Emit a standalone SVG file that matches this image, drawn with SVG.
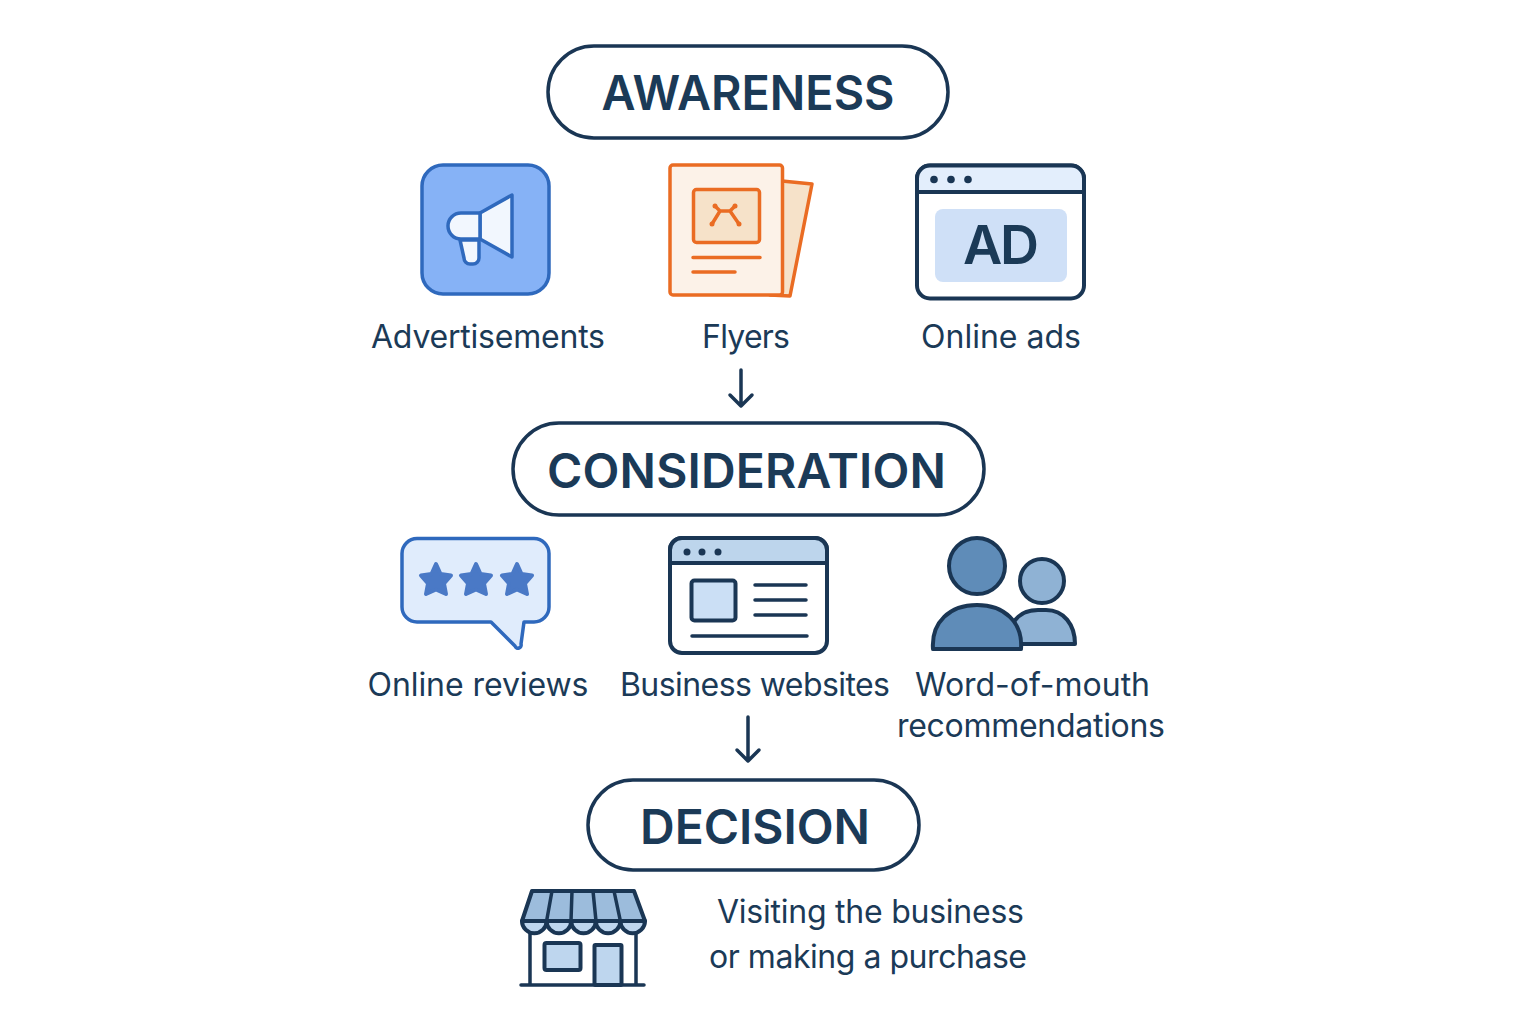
<svg xmlns="http://www.w3.org/2000/svg" width="1536" height="1024" viewBox="0 0 1536 1024">
<style>
text{font-family:Inter,"Noto Sans",sans-serif;fill:#1b3a57}
.h{font-size:48px;font-weight:600;text-anchor:middle}
.l{font-size:32px;font-weight:400;text-anchor:middle}
.pill{fill:#fff;stroke:#1a3654;stroke-width:3.5}
.n{stroke:#1a3654;stroke-width:4;stroke-linejoin:round;stroke-linecap:round}
.n2{stroke:#1a3654;stroke-width:3.500;stroke-linecap:round;fill:none}
.b{stroke:#2f69bd;stroke-width:3.500;stroke-linejoin:round}
.o{stroke:#ea6c23;stroke-width:3.500;stroke-linejoin:round;stroke-linecap:round}
.c{fill:none;stroke:#1a3654;stroke-width:3.500;stroke-linecap:round;stroke-linejoin:round}
.s{fill:#4a79c6;stroke:#4a79c6;stroke-width:4;stroke-linejoin:round}
.d{fill:#1a3654}
.od{fill:#ea6c23}
</style>
<rect width="1536" height="1024" fill="#fff"/>
<g id="awareness"><rect class="pill" x="548" y="46" width="400" height="92" rx="46"/><text class="h" x="748" y="110" textLength="293" lengthAdjust="spacingAndGlyphs">AWARENESS</text></g>
<g id="advertisements">
<rect x="422" y="165" width="127" height="129" rx="21" fill="#86b2f6" stroke="#2f69bd" stroke-width="3.500"/>
<path class="b" fill="#f2f7fe" d="M480,213L512,195V257L480,239Z"/>
<path class="b" fill="#f2f7fe" d="M480,213H461a13,13 0 0 0 0,26H480Z"/>
<path class="b" fill="#f2f7fe" d="M460,240L464,258a6,6 0 0 0 6,6h3a6,6 0 0 0 6,-6L479,240Z"/>
<text class="l" x="488" y="348" textLength="234">Advertisements</text></g>
<g id="flyers">
<path class="o" fill="#f6e2c9" d="M782,181L812,184L790,296L770,295Z"/>
<rect class="o" x="670" y="165" width="112.500" height="130" rx="3" fill="#fcf2e8"/>
<rect class="o" x="693.500" y="189.500" width="66" height="53" rx="3" fill="#f6e2c9"/>
<path class="o" fill="none" d="M715,206L720,211H730L735,206M720,211L712,224M730,211L739,224"/>
<circle class="od" cx="712" cy="224" r="2.500"/><circle class="od" cx="739" cy="224" r="2.500"/><circle class="od" cx="715" cy="206" r="2.500"/><circle class="od" cx="735" cy="206" r="2.500"/>
<path class="o" fill="none" d="M693,257.500H760M693,272H735"/>
<text class="l" x="746" y="348" textLength="88">Flyers</text></g>
<g id="online-ads">
<rect class="n" x="917" y="165.500" width="167" height="133" rx="13" fill="#fff"/>
<path class="n" fill="#e3eefc" d="M917,192V178.500a13,13 0 0 1 13,-13H1071a13,13 0 0 1 13,13V192Z"/>
<circle class="d" cx="934" cy="179.500" r="3.800"/><circle class="d" cx="951" cy="179.500" r="3.800"/><circle class="d" cx="968" cy="179.500" r="3.800"/>
<rect x="935" y="209" width="132" height="73" rx="8" fill="#cfe0f7"/>
<text x="1001" y="264" font-size="54" font-weight="600" text-anchor="middle" textLength="76">AD</text>
<text class="l" x="1001" y="348" textLength="160">Online ads</text></g>
<g id="connectors">
<path class="c" d="M741,370V406M730,395L741,406L752,395"/>
<path class="c" d="M748,717V761M737,750L748,761L759,750"/>
</g>
<g id="consideration"><rect class="pill" x="513" y="423" width="471" height="92" rx="46"/><text class="h" x="746.500" y="488" textLength="399">CONSIDERATION</text></g>
<g id="online-reviews">
<path class="b" fill="#e0ecfc" d="M417,538.500H534a15,15 0 0 1 15,15V607a15,15 0 0 1 -15,15H524L521,644a3,3 0 0 1 -6,2L491,622H417a15,15 0 0 1 -15,-15V553.500a15,15 0 0 1 15,-15Z"/>
<path class="s" d="M436,564L440.500,574L451,575.500L444,583.500L446,594L436,589.500L426,594L428,583.500L421,575.500L431.500,574Z"/>
<path class="s" d="M476,564L480.500,574L491,575.500L484,583.500L486,594L476,589.500L466,594L468,583.500L461,575.500L471.500,574Z"/>
<path class="s" d="M517,564L521.500,574L532,575.500L525,583.500L527,594L517,589.500L507,594L509,583.500L502,575.500L512.500,574Z"/>
<text class="l" x="478" y="696" textLength="221">Online reviews</text></g>
<g id="business-websites">
<rect class="n" x="670" y="538" width="157" height="115" rx="12" fill="#fff"/>
<path class="n" fill="#bdd5ec" d="M670,563V550a12,12 0 0 1 12,-12H815a12,12 0 0 1 12,12V563Z"/>
<circle class="d" cx="687" cy="552" r="3.500"/><circle class="d" cx="702" cy="552" r="3.500"/><circle class="d" cx="718" cy="552" r="3.500"/>
<rect class="n" x="691.500" y="580.500" width="44" height="40" rx="3" fill="#cbdff5"/>
<path class="n2" d="M755,585H806M755,600H806M755,615H806M692,636H807"/>
<text class="l" x="755" y="696" textLength="270">Business websites</text></g>
<g id="word-of-mouth">
<circle class="n" cx="1042" cy="581" r="22" fill="#8fb2d4"/>
<path class="n" fill="#8fb2d4" d="M1012,625C1017,615 1025,610 1038,610H1046C1064,610 1075,625 1075,644H1018Z"/>
<circle class="n" cx="977" cy="566" r="28" fill="#5f8cb8"/>
<path class="n" fill="#5f8cb8" d="M933,649C931,622 950,605 977,605C1004,605 1023,622 1021,649Z"/>
<text class="l" x="1032.500" y="696" textLength="235">Word-of-mouth</text>
<text class="l" x="1031" y="737" textLength="268">recommendations</text></g>
<g id="decision"><rect class="pill" x="588" y="780" width="331" height="90" rx="45"/><text class="h" x="755" y="844" textLength="230">DECISION</text></g>
<g id="visiting">
<path class="n2" d="M530,930V985M636,930V985M521,985H644"/>
<rect class="n" x="544.500" y="943" width="36" height="27" rx="2" fill="#bed6ee"/>
<rect class="n" x="594.500" y="945" width="27" height="40" rx="1" fill="#bed6ee"/>
<path class="n" fill="#9cbcdc" d="M532,891H634L645,921H522Z"/>
<path class="n" fill="#bed6ee" d="M522,921H645a12.300,12.300 0 0 1 -24.600,0a12.300,12.300 0 0 1 -24.600,0a12.300,12.300 0 0 1 -24.600,0a12.300,12.300 0 0 1 -24.600,0a12.300,12.300 0 0 1 -24.600,0Z"/>
<path class="n2" d="M552,891L546.600,921M572,891L571,921M593,891L596,921M614,891L620.400,921"/>
<text class="l" x="870.500" y="923" textLength="307">Visiting the business</text>
<text class="l" x="868" y="968" textLength="318">or making a purchase</text></g>
</svg>
